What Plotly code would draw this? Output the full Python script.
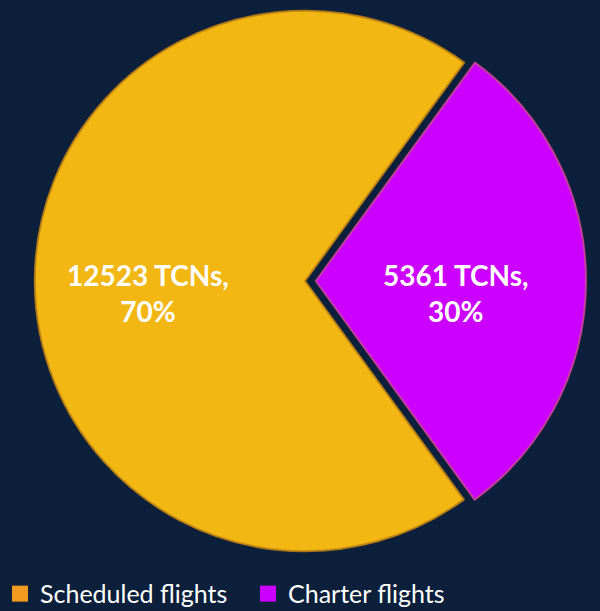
import math
import plotly.graph_objects as go

categories = ["Scheduled flights", "Charter flights"]
values = [12523, 5361]
slice_colors = ["#F2B713", "#CC00FF"]
legend_colors = ["#F29A1F", "#CC00FF"]
edge_colors = ["rgba(190,130,20,0.9)", "rgba(200,70,150,0.9)"]
pulls = [0, 0.04]

BG = "#0C1F3B"
W, H = 600, 611
M = dict(l=24, r=14, t=0, b=49)
ROTATION = 144
label_radius = [0.58, 0.52]   # fraction of pie radius for the labels
label_dy = 12                  # px, labels sit slightly below the slice axis

fig = go.Figure()

fig.add_trace(go.Pie(
    labels=categories,
    values=values,
    sort=False,
    direction="clockwise",
    rotation=ROTATION,
    pull=pulls,
    marker=dict(colors=slice_colors, line=dict(color=edge_colors, width=2)),
    textinfo="none",
    hoverinfo="label+value+percent",
    showlegend=False,
    domain=dict(x=[0, 1], y=[0, 1]),
))

# data labels placed along each slice's mid-angle (same geometry plotly uses)
pw = W - M["l"] - M["r"]
ph = H - M["t"] - M["b"]
r_px = min(pw, ph) / 2 / (1 + max(pulls))
total = sum(values)
start = ROTATION
for v, p, lr in zip(values, pulls, label_radius):
    span = 360 * v / total
    mid = math.radians(start + span / 2)
    start += span
    dist = (p + lr) * r_px
    x_px = pw / 2 + dist * math.sin(mid)
    y_px = ph / 2 + dist * math.cos(mid) - label_dy
    fig.add_annotation(
        x=x_px / pw, y=y_px / ph, xref="paper", yref="paper",
        text=f"{v} TCNs,<br>{round(100 * v / total)}%",
        showarrow=False, xanchor="center", yanchor="middle",
        font=dict(family="Lato", size=28, color="white", weight="bold"),
    )

for name, col in zip(categories, legend_colors):
    fig.add_trace(go.Scatter(
        x=[None], y=[None], mode="markers", name=name,
        marker=dict(symbol="square", size=16, color=col),
        showlegend=True,
    ))

fig.update_layout(
    width=W, height=H,
    paper_bgcolor=BG, plot_bgcolor=BG,
    margin=M,
    xaxis=dict(visible=False), yaxis=dict(visible=False),
    legend=dict(
        orientation="h", xref="container", yref="container",
        x=-0.0195, xanchor="left", y=0.028, yanchor="middle",
        font=dict(family="Lato", size=25, color="white"),
        entrywidth=203, entrywidthmode="pixels",
        bgcolor="rgba(0,0,0,0)",
    ),
)

fig.write_html(
    "out.html",
    config={"displayModeBar": False},
    post_script="document.body.style.margin='0';document.body.style.background='" + BG + "';",
)
